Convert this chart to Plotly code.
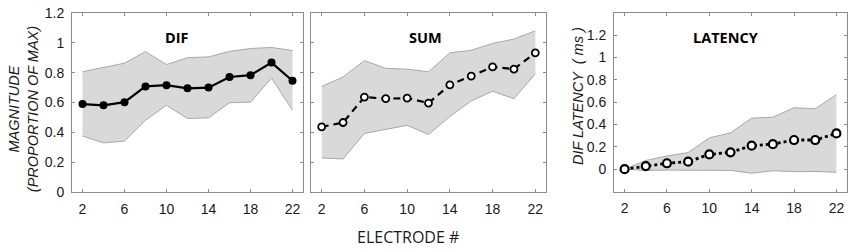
import plotly.graph_objects as go

electrodes = [2, 4, 6, 8, 10, 12, 14, 16, 18, 20, 22]

dif_mean = [0.590, 0.582, 0.603, 0.708, 0.716, 0.695, 0.700, 0.771, 0.783, 0.867, 0.746]
dif_upper = [0.806, 0.836, 0.863, 0.940, 0.854, 0.900, 0.905, 0.942, 0.961, 0.968, 0.947]
dif_lower = [0.377, 0.331, 0.343, 0.482, 0.582, 0.494, 0.498, 0.599, 0.603, 0.764, 0.549]

sum_mean = [0.438, 0.467, 0.637, 0.626, 0.630, 0.597, 0.718, 0.777, 0.838, 0.823, 0.932]
sum_upper = [0.708, 0.771, 0.880, 0.829, 0.823, 0.806, 0.932, 0.949, 0.995, 1.024, 1.079]
sum_lower = [0.230, 0.224, 0.394, 0.419, 0.448, 0.387, 0.507, 0.611, 0.676, 0.626, 0.792]

lat_mean = [0.000, 0.028, 0.053, 0.067, 0.132, 0.151, 0.210, 0.224, 0.261, 0.261, 0.320]
lat_upper = [0.000, 0.078, 0.118, 0.149, 0.280, 0.325, 0.457, 0.465, 0.550, 0.541, 0.667]
lat_lower = [0.000, -0.011, -0.008, -0.011, -0.014, -0.011, -0.036, -0.014, -0.022, -0.020, -0.028]

x_ticks = [2, 6, 10, 14, 18, 22]
mag_ticks = [0, 0.2, 0.4, 0.6, 0.8, 1, 1.2]
lat_ticks = [0, 0.2, 0.4, 0.6, 0.8, 1, 1.2]
tick_text = ["0", "0.2", "0.4", "0.6", "0.8", "1", "1.2"]

panel_titles = ["DIF", "SUM", "LATENCY"]

W, H = 851, 252
BAND_FILL = "#d9d9d9"
BAND_LINE = "#a8a8a8"
AXIS_COL = "#8c8c8c"
TXT = "#1a1a1a"

fig = go.Figure()

def add_band(xa, ya, upper, lower):
    fig.add_trace(go.Scatter(x=electrodes, y=upper, xaxis=xa, yaxis=ya, mode="lines",
                             line=dict(color=BAND_LINE, width=1), showlegend=False, hoverinfo="skip"))
    fig.add_trace(go.Scatter(x=electrodes, y=lower, xaxis=xa, yaxis=ya, mode="lines",
                             line=dict(color=BAND_LINE, width=1), fill="tonexty",
                             fillcolor=BAND_FILL, showlegend=False, hoverinfo="skip"))

add_band("x", "y", dif_upper, dif_lower)
fig.add_trace(go.Scatter(x=electrodes, y=dif_mean, xaxis="x", yaxis="y", mode="lines+markers",
                         line=dict(color="black", width=2.2),
                         marker=dict(color="black", size=8), showlegend=False))

add_band("x2", "y2", sum_upper, sum_lower)
fig.add_trace(go.Scatter(x=electrodes, y=sum_mean, xaxis="x2", yaxis="y2", mode="lines+markers",
                         line=dict(color="black", width=2.2, dash="7px,5px"),
                         marker=dict(color="white", size=7, line=dict(color="black", width=1.8)),
                         showlegend=False))

add_band("x3", "y3", lat_upper, lat_lower)
fig.add_trace(go.Scatter(x=electrodes, y=lat_mean, xaxis="x3", yaxis="y3", mode="lines+markers",
                         line=dict(color="black", width=2.8, dash="dot"),
                         marker=dict(color="white", size=8, line=dict(color="black", width=2.2)),
                         showlegend=False))

def px_x(p):
    return p / W

def px_y(p):
    return (H - p) / H

yb, yt = px_y(197), px_y(5)
domains = [(px_x(72), px_x(303)), (px_x(311), px_x(546)), (px_x(614), px_x(847))]

tick_font = dict(family="Liberation Sans, Arial", size=14, color=TXT)
common_x = dict(range=[1, 23], tickvals=x_ticks, ticks="inside", ticklen=3, tickcolor=AXIS_COL,
                showline=True, linecolor=AXIS_COL, linewidth=1, mirror="allticks",
                showgrid=False, zeroline=False, ticklabelstandoff=4, tickfont=tick_font,
                ticklabeloverflow="allow")
common_y = dict(ticks="inside", ticklen=3, tickcolor=AXIS_COL,
                showline=True, linecolor=AXIS_COL, linewidth=1, mirror="allticks",
                showgrid=False, zeroline=False, ticklabelstandoff=4, tickfont=tick_font,
                ticklabeloverflow="allow")

fig.update_layout(
    width=W, height=H, margin=dict(l=0, r=0, t=0, b=0),
    plot_bgcolor="white", paper_bgcolor="white", showlegend=False,
    xaxis=dict(domain=domains[0], anchor="y", **common_x),
    xaxis2=dict(domain=domains[1], anchor="y2", **common_x),
    xaxis3=dict(domain=domains[2], anchor="y3", **common_x),
    yaxis=dict(domain=[yb, yt], anchor="x", range=[0, 1.2001], tickvals=mag_ticks,
               ticktext=tick_text, **common_y),
    yaxis2=dict(domain=[yb, yt], anchor="x2", range=[0, 1.2001], tickvals=mag_ticks,
                showticklabels=False, **common_y),
    yaxis3=dict(domain=[px_y(196), yt], anchor="x3", range=[-0.2, 1.4], tickvals=lat_ticks,
                ticktext=tick_text, **common_y),
)

title_font = dict(family="Open Sans, Liberation Sans", size=14.5, color="black")
title_pos = [(177, 32), (425, 32), (726, 31)]
for t, (cx, cy) in zip(panel_titles, title_pos):
    fig.add_annotation(text=f"<b>{t}</b>", x=px_x(cx), y=px_y(cy), xref="paper", yref="paper",
                       showarrow=False, font=title_font, xanchor="center", yanchor="middle")

ylab_font = dict(family="Liberation Sans, Arial", size=14.5, color=TXT)
fig.add_annotation(text="<i>MAGNITUDE</i><br><i>(PROPORTION OF MAX)</i>", x=px_x(23), y=px_y(108),
                   xref="paper", yref="paper", showarrow=False, textangle=-90, font=ylab_font,
                   xanchor="center", yanchor="middle")
fig.add_annotation(text="<i>DIF LATENCY  ( ms )</i>", x=px_x(578), y=px_y(94),
                   xref="paper", yref="paper", showarrow=False, textangle=-90, font=ylab_font,
                   xanchor="center", yanchor="middle")
fig.add_annotation(text="ELECTRODE #", x=px_x(408), y=px_y(244), xref="paper", yref="paper",
                   showarrow=False, font=dict(family="Open Sans, Liberation Sans", size=16, color=TXT),
                   xanchor="center", yanchor="middle")

fig.write_html("out.html", config={"displayModeBar": False},
               post_script="document.body.style.margin='0';document.body.style.overflow='hidden';")
